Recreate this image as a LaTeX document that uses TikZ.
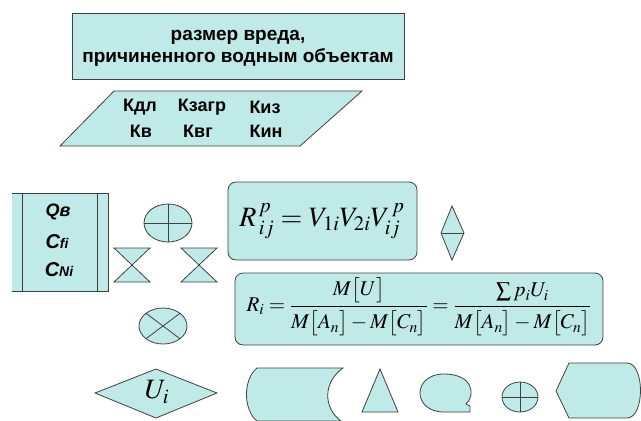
\documentclass[tikz,border=0pt]{standalone}
\usepackage{amsmath}
\usepackage{mathptmx}
\usepackage{fontspec}
\setmainfont{Liberation Sans}
\usepackage{tikz}
\usetikzlibrary{positioning}

\begin{document}
\begin{tikzpicture}[x=1pt, y=-1pt,
    fig/.style={fill=myfill, draw=myline, line width=0.8pt},
    rutext/.style={font=\fontsize{19}{22}\selectfont\bfseries, align=center, inner sep=0pt},
    ktext/.style={font=\fontsize{18}{20}\selectfont\bfseries, inner sep=0pt},
    vartext/.style={font=\fontsize{20}{20}\selectfont\bfseries\itshape, inner sep=0pt},
    formula/.style={inner sep=0pt}]
    % Colors
    \definecolor{myfill}{RGB}{192,234,232}
    \definecolor{myline}{RGB}{64,64,64}

    \useasboundingbox (0,0) rectangle (641,421);

    % Top box and parallelogram
    \draw[fig] (72,13) rectangle (404,79);
    \node[rutext] (harm) at (238,48) {размер вреда,\\причиненного водным объектам};
    \draw[fig] (60,146) -- (114,91) -- (362,91) -- (300,146) -- cycle;
    \node[ktext] (kdl) at (140,107) {Кдл};
    \node[ktext] (kzagr) at (202,107) {Кзагр};
    \node[ktext] (kiz) at (265,107) {Киз};
    \node[ktext] (kv) at (141,131) {Кв};
    \node[ktext] (kvg) at (198,131) {Квг};
    \node[ktext] (kin) at (266,131) {Кин};

    % Predefined process box
    \fill[myfill] (12,193) rectangle (108,291);
    \draw[myline, line width=0.8pt] (12,193) -- (108,193) -- (108,291) -- (12,291);
    \draw[myline, line width=0.8pt] (22,193) -- (22,291);
    \draw[myline, line width=0.8pt] (97,193) -- (97,291);
    \node[vartext, font=\fontsize{18}{18}\selectfont\bfseries\itshape] (qv) at (58,212) {Qв};
    \node[vartext] (cfi) at (57,242) {C{\fontsize{14}{14}\selectfont fi}};
    \node[vartext] (cni) at (59,270) {C{\fontsize{14}{14}\selectfont Ni}};

    % Small symbols
    \draw[fig] (168,223) ellipse (24 and 19);
    \draw[myline, line width=0.8pt] (144,223) -- (192,223) (168,204) -- (168,242);
    \draw[fig] (114,248) -- (150,248) -- (114,282) -- (150,282) -- cycle;
    \draw[fig] (181,248) -- (217,248) -- (181,282) -- (217,282) -- cycle;
    \draw[fig] (163,326) ellipse (24 and 18);
    \draw[myline, line width=0.8pt] (146,313.3) -- (180,338.7) (146,338.7) -- (180,313.3);
    \draw[fig] (452,206) -- (464,233) -- (452,260) -- (441,233) -- cycle;
    \draw[myline, line width=0.8pt] (441,233) -- (464,233);

    % Formula boxes
    \draw[fig, rounded corners=8pt] (228,182) rectangle (417,260);
    \node[formula, font=\fontsize{28}{30}\selectfont] (rpij) at (322,221)
        {$R^{\,p}_{\,ij} = V_{1i}V_{2i}V^{\,p}_{ij}$};
    \draw[fig, rounded corners=8pt] (235,273) rectangle (603,345);
    \node[formula, font=\fontsize{21}{24}\selectfont] (ri) at (419,307)
        {$R_i = \dfrac{M\bigl[U\bigr]\rule[-4pt]{0pt}{4pt}}{\rule{0pt}{20pt}M\bigl[A_n\bigr] - M\bigl[C_n\bigr]}
          = \dfrac{\textstyle\sum p_iU_i\rule[-4pt]{0pt}{4pt}}{\rule{0pt}{20pt}M\bigl[A_n\bigr] - M\bigl[C_n\bigr]}$};

    % Bottom row
    \draw[fig] (95,393) -- (156,369) -- (217,393) -- (156,418) -- cycle;
    \node[formula, font=\fontsize{28}{30}\selectfont] (ui) at (157,392) {$U_i$};
    \draw[fig] (257,368) -- (343,368) .. controls (323,382) and (323,408) .. (341,421)
        -- (257,421) .. controls (243,410) and (243,379) .. cycle;
    \draw[fig] (380,369) -- (398,412) -- (362,412) -- cycle;
    \draw[fig] (466,404) .. controls (476,395) and (473,374) .. (444,374)
        .. controls (412,374) and (412,412) .. (444,412) -- (470,412) -- (470,406) -- cycle;
    \draw[fig] (520,397) ellipse (18 and 15);
    \draw[myline, line width=0.8pt] (502,397) -- (538,397) (520,382) -- (520,412);
    \draw[fig] (556,391) -- (569,363) -- (627,363) .. controls (645,363) and (645,418) .. (627,418)
        -- (569,418) -- cycle;

\end{tikzpicture}
\end{document}
